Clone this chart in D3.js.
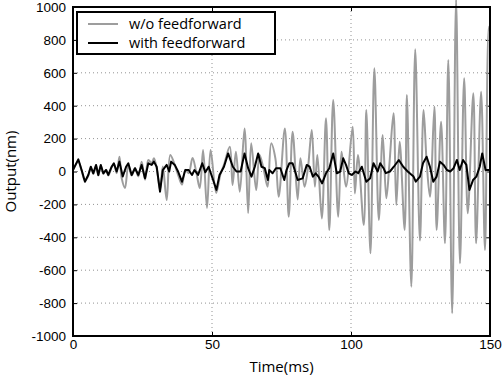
<!DOCTYPE html>
<html>
<head>
<meta charset="utf-8">
<script src="https://cdn.jsdelivr.net/npm/d3@7"></script>
<style>
  body { margin: 0; background: #fff; }
  svg { display: block; font-family: 'Open Sans', sans-serif; }
</style>
</head>
<body>
<div id="chart"></div>
<script>
// time (ms) and output (nm)
const grayTime = [0, 1.9, 3.1, 4.3, 5.5, 6.4, 7.3, 8.3, 9.1, 10, 10.9, 11.9, 12.7, 13.9, 14.7, 15.7, 16.7, 17.5, 18.7, 19.9,
  21.1, 22.3, 23.5, 24.7, 25.9, 27.1, 28.3, 29.1, 30.1, 31.3, 32.3, 33.7, 35, 36.6, 37.8, 39.2, 40.4, 41.6, 43, 44.3,
  45.6, 46.8, 48.2, 49.5, 51.5, 53, 54.3, 56.4, 57.4, 58.6, 60, 61.7, 63, 64.1, 65.9, 67.1, 68.5, 70, 71.3, 72.8,
  74, 76.2, 77.6, 79, 80.8, 81.8, 83.3, 84.5, 85.9, 87, 87.9, 89.5, 91, 92.2, 93.6, 95.4, 96.6, 98.2, 100.6, 101.4,
  102.5, 104.6, 105.5, 107, 108.4, 110, 111.4, 112.7, 113.8, 115.3, 116.3, 117.5, 119.3, 120.1, 121.7, 123.1, 124.8, 126.1, 127.2, 128.4,
  130, 130.8, 132.4, 133.8, 135, 136.4, 137.8, 139.2, 140.7, 142, 144, 145, 146.8, 148.2, 149.6, 150];
const grayOutput = [10, 60, 5, -55, -25, 25, -15, 35, -25, 35, -15, 10, -25, 25, 45, -10, 90, -40, -100, 40,
  -25, 20, -30, 60, -50, 70, 50, 80, 20, -110, 30, -173, 100, 40, -20, -80, 10, -10, 82, 0,
  -100, 130, -222, 130, -130, -20, 40, 150, -82, 120, -123, 262, -253, 171, -112, 100, 20, -92, 171, 80,
  -153, 262, -275, 242, -170, 80, -92, 20, 252, -92, 100, -285, 323, -355, 435, -275, 120, -92, 272, -133,
  100, -325, 374, -497, 627, -295, 222, -163, 40, 354, -204, 181, -355, 465, -700, 743, -420, 374, 60, -153,
  394, -355, 303, -436, 678, -862, 1045, -558, 567, -254, 475, -436, 485, -477, 880, 850];

const blackTime = [0, 1.9, 3.1, 4.3, 5.5, 6.4, 7.3, 8.3, 9.1, 10, 10.9, 11.9, 12.7, 13.9, 14.7, 15.7, 16.7, 17.9, 19.1, 19.9,
  21.1, 22.3, 23.5, 24.7, 25.9, 27.1, 28.3, 29.1, 30.1, 31.3, 32.3, 33.7, 34.6, 35.3, 36.6, 37.8, 39.2, 40.4, 41.6, 42.8,
  43.7, 45, 46.5, 47.6, 48.8, 50.4, 51.6, 52.7, 54.3, 55.8, 57.5, 58.8, 60.3, 61.7, 63, 64.2, 65.4, 66.6, 67.8, 69,
  70.1, 70.6, 71.8, 73, 74.6, 76, 76.8, 77.8, 79, 80.1, 80.8, 82.6, 84.1, 85.1, 86.3, 87.3, 88.3, 89.6, 91, 92.2,
  93.6, 94.9, 96.1, 97.2, 98.2, 99.2, 100.3, 101.6, 102.6, 103.9, 105.5, 106.9, 108.1, 109.6, 110.5, 111.7, 112.5, 114, 115.4, 117.2,
  118.8, 120.4, 122.5, 123.3, 124.8, 125.9, 127.2, 128.4, 129.6, 130.8, 132, 133.3, 134.5, 135.7, 136.9, 138.1, 139.1, 140.3, 141.5, 142.6,
  143.9, 145.1, 146.3, 147.2, 148.4, 150];
const blackOutput = [9, 74, 9, -62, -21, 29, -11, 40, -21, 40, -11, 9, -21, 29, 50, 0, 60, -30, 29, 50,
  -21, 20, -21, 40, -41, 50, 40, 60, 29, -123, 9, 40, 0, 60, 40, 0, -62, 9, 9, -21,
  9, -21, 50, -5, 29, -52, -112, -21, 29, 110, 29, 0, 0, 110, 20, -31, 29, 110, 29, 20,
  -52, 9, -11, 20, 20, -52, 9, 50, 50, -11, -52, -42, 40, 30, -31, -11, -31, -72, -11, 20,
  110, -11, 0, 80, 40, -11, -21, 0, -10, 29, -62, -41, 50, 0, 50, 20, -10, 0, 29, 70,
  29, 0, -31, -62, -31, 50, 90, 29, -62, -31, 60, 40, 9, 0, 20, 70, 9, 70, 40, -112,
  -52, -31, 29, 110, 9, 9];

const xTicks = [0, 50, 100, 150];
const yTicks = [-1000, -800, -600, -400, -200, 0, 200, 400, 600, 800, 1000];
const seriesNames = ['w/o feedforward', 'with feedforward'];

const width = 504;
const height = 376;
const margin = { top: 7, right: 14, bottom: 40, left: 73 };
const w = width - margin.left - margin.right;
const h = height - margin.top - margin.bottom;

const svg = d3.select('#chart')
  .append('svg')
    .attr('width', width)
    .attr('height', height)
  .append('g')
    .attr('transform', `translate(${margin.left}, ${margin.top})`);

const x = d3.scaleLinear().domain([0, 150]).range([0, w]);
const y = d3.scaleLinear().domain([-1000, 1000]).range([h, 0]);

// dotted grid
svg.append('g')
  .selectAll('line')
  .data(xTicks.slice(1, -1))
  .join('line')
    .attr('x1', d => x(d)).attr('x2', d => x(d))
    .attr('y1', 0).attr('y2', h)
    .attr('stroke', '#777').attr('stroke-width', 0.8)
    .attr('stroke-dasharray', '1,3');

svg.append('g')
  .selectAll('line')
  .data(yTicks.slice(1, -1))
  .join('line')
    .attr('x1', 0).attr('x2', w)
    .attr('y1', d => y(d)).attr('y2', d => y(d))
    .attr('stroke', '#777').attr('stroke-width', 0.8)
    .attr('stroke-dasharray', '1,3');

// axes, ticks pointing inward on all four sides
const plain = d => String(d);
const styleAxis = g => {
  g.select('.domain').remove();
  g.selectAll('.tick line').attr('stroke', '#000').attr('stroke-width', 1);
  g.selectAll('.tick text').attr('fill', '#000').style('font-size', '13.5px');
};

svg.append('g')
  .attr('transform', `translate(0, ${h})`)
  .call(d3.axisBottom(x).tickValues(xTicks).tickFormat(plain).tickSizeInner(-4).tickPadding(5))
  .call(styleAxis)
  .call(g => g.selectAll('.tick text').attr('dy', '0.6em'));

svg.append('g')
  .call(d3.axisTop(x).tickValues(xTicks).tickSizeInner(-4).tickFormat(''))
  .call(styleAxis);

svg.append('g')
  .call(d3.axisLeft(y).tickValues(yTicks).tickFormat(plain).tickSizeInner(-4).tickPadding(7))
  .call(styleAxis);

svg.append('g')
  .attr('transform', `translate(${w}, 0)`)
  .call(d3.axisRight(y).tickValues(yTicks).tickSizeInner(-4).tickFormat(''))
  .call(styleAxis);

// series
const grayLine = d3.line()
  .x(d => x(d[0]))
  .y(d => y(d[1]))
  .curve(d3.curveCatmullRom.alpha(0.5));

const blackLine = d3.line()
  .x(d => x(d[0]))
  .y(d => y(d[1]));

svg.append('path')
  .datum(grayTime.map((t, i) => [t, grayOutput[i]]))
  .attr('fill', 'none')
  .attr('stroke', '#9d9d9d')
  .attr('stroke-width', 2)
  .attr('stroke-linejoin', 'round')
  .attr('d', grayLine);

svg.append('path')
  .datum(blackTime.map((t, i) => [t, blackOutput[i]]))
  .attr('fill', 'none')
  .attr('stroke', '#000')
  .attr('stroke-width', 2)
  .attr('stroke-linejoin', 'round')
  .attr('d', blackLine);

// frame
svg.append('rect')
  .attr('width', w).attr('height', h)
  .attr('fill', 'none')
  .attr('stroke', '#000')
  .attr('stroke-width', 2);

// axis labels
svg.append('text')
  .attr('x', w / 2).attr('y', h + 36)
  .attr('text-anchor', 'middle')
  .style('font-size', '15px')
  .text('Time(ms)');

svg.append('text')
  .attr('transform', `translate(${-57}, ${h / 2}) rotate(-90)`)
  .attr('text-anchor', 'middle')
  .style('font-size', '15px')
  .text('Output(nm)');

// legend
const legend = svg.append('g').attr('transform', 'translate(4, 5)');
legend.append('rect')
  .attr('width', 198).attr('height', 42)
  .attr('fill', '#fff')
  .attr('stroke', '#000')
  .attr('stroke-width', 2);

const colors = ['#9d9d9d', '#000'];
seriesNames.forEach((name, i) => {
  const row = legend.append('g').attr('transform', `translate(0, ${12 + i * 19})`);
  row.append('line')
    .attr('x1', 11).attr('x2', 41)
    .attr('stroke', colors[i]).attr('stroke-width', 2);
  row.append('text')
    .attr('x', 52).attr('dy', '0.35em')
    .style('font-size', '14.5px')
    .text(name);
});
</script>
</body>
</html>
